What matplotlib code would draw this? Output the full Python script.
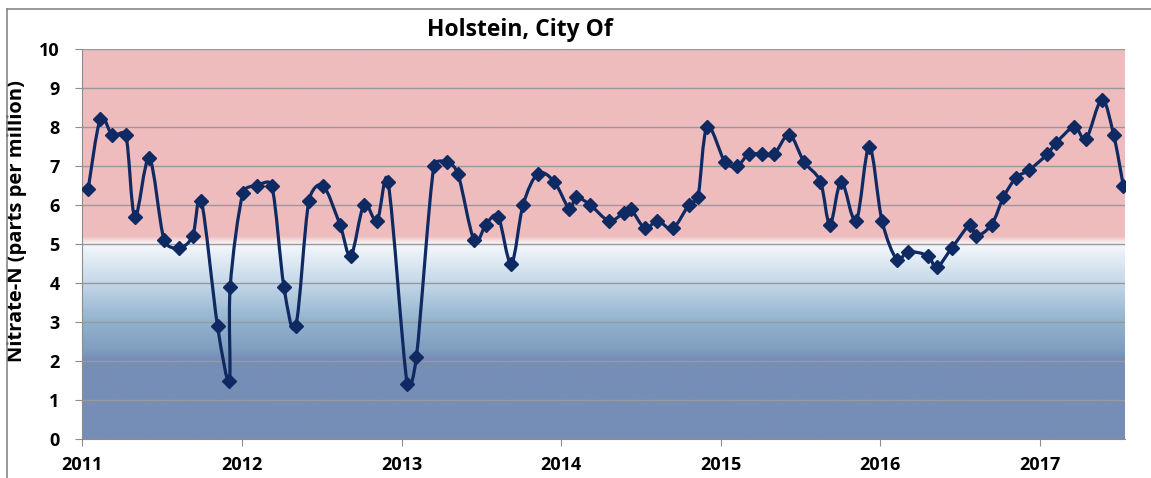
import numpy as np
import pandas as pd
import matplotlib
matplotlib.use('Agg')
import matplotlib.pyplot as plt
import matplotlib.dates as mdates
from matplotlib.path import Path
from matplotlib.patches import PathPatch
from matplotlib.lines import Line2D

plt.rcParams['font.family'] = ['Open Sans', 'DejaVu Sans']

# sample dates and nitrate values (ppm)
sample_dates = [
    '2011-01-15', '2011-02-12', '2011-03-11', '2011-04-11', '2011-05-02', '2011-06-04',
    '2011-07-08', '2011-08-11', '2011-09-11', '2011-10-01', '2011-11-07', '2011-12-04',
    '2011-12-06', '2012-01-04', '2012-02-05', '2012-03-10', '2012-04-07', '2012-05-04',
    '2012-06-03', '2012-07-05', '2012-08-13', '2012-09-07', '2012-10-07', '2012-11-06',
    '2012-12-01', '2013-01-14', '2013-02-04', '2013-03-16', '2013-04-15', '2013-05-10',
    '2013-06-16', '2013-07-13', '2013-08-10', '2013-09-09', '2013-10-06', '2013-11-09',
    '2013-12-16', '2014-01-20', '2014-02-04', '2014-03-09', '2014-04-20', '2014-05-25',
    '2014-06-09', '2014-07-12', '2014-08-09', '2014-09-13', '2014-10-20', '2014-11-10',
    '2014-12-01', '2015-01-11', '2015-02-08', '2015-03-06', '2015-04-05', '2015-05-03',
    '2015-06-07', '2015-07-11', '2015-08-17', '2015-09-08', '2015-10-04', '2015-11-07',
    '2015-12-07', '2016-01-05', '2016-02-08', '2016-03-04', '2016-04-19', '2016-05-09',
    '2016-06-13', '2016-07-25', '2016-08-07', '2016-09-12', '2016-10-09', '2016-11-07',
    '2016-12-07', '2017-01-17', '2017-02-07', '2017-03-20', '2017-04-16', '2017-05-22',
    '2017-06-18', '2017-07-10',
]
nitrate = [
    6.4, 8.2, 7.8, 7.8, 5.7, 7.2,
    5.1, 4.9, 5.2, 6.1, 2.9, 1.5,
    3.9, 6.3, 6.5, 6.5, 3.9, 2.9,
    6.1, 6.5, 5.5, 4.7, 6.0, 5.6,
    6.6, 1.4, 2.1, 7.0, 7.1, 6.8,
    5.1, 5.5, 5.7, 4.5, 6.0, 6.8,
    6.6, 5.9, 6.2, 6.0, 5.6, 5.8,
    5.9, 5.4, 5.6, 5.4, 6.0, 6.2,
    8.0, 7.1, 7.0, 7.3, 7.3, 7.3,
    7.8, 7.1, 6.6, 5.5, 6.6, 5.6,
    7.5, 5.6, 4.6, 4.8, 4.7, 4.4,
    4.9, 5.5, 5.2, 5.5, 6.2, 6.7,
    6.9, 7.3, 7.6, 8.0, 7.7, 8.7,
    7.8, 6.5,
]
year_ticks = ['2011', '2012', '2013', '2014', '2015', '2016', '2017']
x_start, x_end = '2011-01-01', '2017-07-14'

x = mdates.date2num(pd.to_datetime(sample_dates))
y = np.array(nitrate)

fig = plt.figure(figsize=(11.51, 4.78), dpi=100)
ax_w, ax_h = 1043, 390
ax = fig.add_axes([82/1151, 1-439/478, ax_w/1151, ax_h/478])

xmin = mdates.date2num(pd.Timestamp(x_start))
xmax = mdates.date2num(pd.Timestamp(x_end))

# background: pink above 5, blue gradient below
yy = np.linspace(0, 10, 1000)
stops = [0, 2.05, 2.3, 3.0, 4.0, 5.0, 5.08, 5.2, 10]
rs = [118, 118, 128, 145, 196, 244, 246, 239, 239]
gs = [142, 142, 158, 178, 215, 248, 226, 188, 188]
bs = [182, 182, 192, 205, 232, 252, 227, 190, 190]
bg = np.stack([np.interp(yy, stops, rs), np.interp(yy, stops, gs),
               np.interp(yy, stops, bs)], axis=1) / 255.0
ax.imshow(bg[:, None, :], extent=[xmin, xmax, 0, 10], aspect='auto',
          origin='lower', zorder=0, interpolation='bilinear')

# excel-like smoothed line: bezier with tangent length min(d02/6, d12/2), in pixels
sx = ax_w / (xmax - xmin)
sy = ax_h / 10.0
P = np.column_stack([x * sx, y * sy])
n = len(P)
verts = [tuple(P[0])]
codes = [Path.MOVETO]
for i in range(n - 1):
    p0 = P[max(i-1, 0)]
    p1 = P[i]
    p2 = P[i+1]
    p3 = P[min(i+2, n-1)]
    d12 = np.hypot(*(p2 - p1))
    t1 = p2 - p0
    d02 = np.hypot(*t1)
    t2 = p3 - p1
    d13 = np.hypot(*t2)
    c1 = p1 + (t1 / d02 * min(d02 / 6, d12 / 2) if d02 > 0 else 0)
    c2 = p2 - (t2 / d13 * min(d13 / 6, d12 / 2) if d13 > 0 else 0)
    verts += [tuple(c1), tuple(c2), tuple(p2)]
    codes += [Path.CURVE4] * 3
verts = [(vx / sx, vy / sy) for vx, vy in verts]
ax.add_patch(PathPatch(Path(verts, codes), facecolor='none', edgecolor='#0f2a62',
                       lw=2.3, zorder=3, capstyle='round', joinstyle='round'))
ax.plot(x, y, linestyle='none', marker='D', markersize=7, color='#0f2a62', zorder=4)

ax.set_xlim(xmin, xmax)
ax.set_ylim(0, 10)
ax.set_yticks(range(0, 11))
ax.set_xticks(mdates.date2num(pd.to_datetime([t + '-01-01' for t in year_ticks])))
ax.set_xticklabels(year_ticks)
ax.grid(axis='y', color='#999999', lw=1.0, zorder=1)
ax.set_axisbelow(False)
for s in ['top', 'right']:
    ax.spines[s].set_visible(False)
for s in ['left', 'bottom']:
    ax.spines[s].set_color('#8c8c8c')
    ax.spines[s].set_zorder(2)
ax.tick_params(axis='both', colors='#8c8c8c', length=5, labelcolor='black', labelsize=13)
ax.tick_params(axis='y', pad=11)
ax.tick_params(axis='x', pad=7)
for lab in ax.get_xticklabels() + ax.get_yticklabels():
    lab.set_fontweight('bold')

ax.set_ylabel('Nitrate-N (parts per million)', fontsize=14.5, fontweight='bold')
ax.yaxis.set_label_coords(-0.053, 0.56)
fig.text(520/1151, 1-30/478, 'Holstein, City Of', ha='center', va='center',
         fontsize=16.5, fontweight='bold')

# outer frame (left and top edges)
fig.add_artist(Line2D([7/1151, 7/1151], [0, 1-9/478], color='#888888', lw=1.2))
fig.add_artist(Line2D([7/1151, 1], [1-9/478, 1-9/478], color='#888888', lw=1.2))

fig.savefig('out.png', dpi=100)
